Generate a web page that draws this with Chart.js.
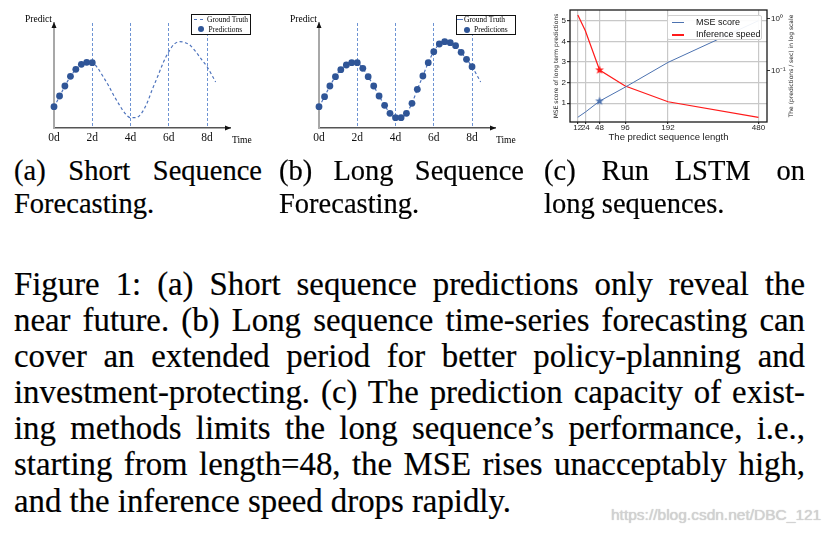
<!DOCTYPE html>
<html>
<head>
<meta charset="utf-8">
<title>Figure 1</title>
<script src="https://cdn.jsdelivr.net/npm/chart.js@4.4.1/dist/chart.umd.min.js"></script>
<style>
  body { margin: 0; background: #fff; }
  #page { position: relative; width: 833px; height: 535px; overflow: hidden; font-family: "Liberation Serif", serif; color: #000; }
  .panel { position: absolute; }
  .lbl { position: absolute; white-space: nowrap; line-height: 1; }
  .legend { position: absolute; background: #fff; box-sizing: border-box; }
  .legend .lbl { font-size: 7.5px; }
  .box-ab { border: 1.5px solid #111; }
  .dash { position: absolute; height: 0; border-top: 1.5px dashed #4f74bd; }
  .dot { position: absolute; width: 6px; height: 6px; border-radius: 50%; background: #2f5597; }
  .box-c { border: 1px solid #d0d0d0; border-radius: 2px; background: rgba(255,255,255,0.92); font-family: "Liberation Sans", sans-serif; }
  .box-c .lbl { font-size: 9px; color: #111; }
  .swatch { position: absolute; height: 1.4px; width: 12px; }
  .cap { position: absolute; top: 154px; font-size: 28.5px; line-height: 33px; -webkit-text-stroke: 0.2px #000; }
  .j { text-align: justify; text-align-last: justify; white-space: nowrap; }
  .para { position: absolute; left: 14px; top: 266px; width: 791px; font-size: 32.8px; line-height: 36.1px; -webkit-text-stroke: 0.2px #000; }
  .mark { position: absolute; left: 611px; top: 506px; font: 15.5px "Liberation Sans", sans-serif; color: #d2d2d2; text-shadow: 0 0 1px #bdbdbd; white-space: nowrap; }
</style>
</head>
<body>
<div id="page">

  <div class="panel" style="left:0;top:0;width:280px;height:150px"><canvas id="chartShort"></canvas></div>
  <div class="panel" style="left:265px;top:0;width:280px;height:150px"><canvas id="chartLong"></canvas></div>
  <div class="panel" style="left:548px;top:0;width:285px;height:145px"><canvas id="chartLstm"></canvas></div>

  <div class="lbl" style="left:25px;top:14.5px;font-size:9.5px">Predict</div>
  <div class="lbl" style="left:232px;top:135.5px;font-size:9.5px">Time</div>
  <div class="lbl" style="left:290px;top:14.5px;font-size:9.5px">Predict</div>
  <div class="lbl" style="left:496px;top:135.5px;font-size:9.5px">Time</div>

  <div class="legend box-ab" style="left:191px;top:14px;width:60px;height:20.5px">
    <span class="dash" style="left:2px;top:4px;width:9px"></span>
    <span class="lbl" style="left:15px;top:1px">Ground Truth</span>
    <span class="dot" style="left:5.5px;top:11px"></span>
    <span class="lbl" style="left:16.5px;top:10.5px">Predictions</span>
  </div>
  <div class="legend box-ab" style="left:455.5px;top:15px;width:60.5px;height:19.5px">
    <span class="dash" style="left:0.5px;top:3px;width:6px"></span>
    <span class="lbl" style="left:7.5px;top:0px">Ground Truth</span>
    <span class="dot" style="left:7px;top:10.5px"></span>
    <span class="lbl" style="left:17.5px;top:10px">Predictions</span>
  </div>

  <div class="legend box-c" style="left:667px;top:15px;width:95px;height:25px">
    <span class="swatch" style="left:4px;top:6px;background:#4c72b0"></span>
    <span class="lbl" style="left:28px;top:2px">MSE score</span>
    <span class="swatch" style="left:4px;top:18.3px;background:#ff1a1a"></span>
    <span class="lbl" style="left:28px;top:14.3px">Inference speed</span>
  </div>

  <div class="cap" style="left:14px;width:248px">
    <div class="j">(a) Short Sequence</div>
    <div>Forecasting.</div>
  </div>
  <div class="cap" style="left:279px;width:245px">
    <div class="j">(b) Long Sequence</div>
    <div>Forecasting.</div>
  </div>
  <div class="cap" style="left:544px;width:261px">
    <div class="j">(c) Run LSTM on</div>
    <div>long sequences.</div>
  </div>

  <div class="para">
    <div class="j">Figure 1: (a) Short sequence predictions only reveal the</div>
    <div class="j">near future. (b) Long sequence time-series forecasting can</div>
    <div class="j">cover an extended period for better policy-planning and</div>
    <div class="j">investment-protecting. (c) The prediction capacity of exist-</div>
    <div class="j">ing methods limits the long sequence’s performance, i.e.,</div>
    <div class="j">starting from length=48, the MSE rises unacceptably high,</div>
    <div>and the inference speed drops rapidly.</div>
  </div>

  <div class="mark">https://blog.csdn.net/DBC_121</div>
</div>

<script>
// (a) and (b): days on x, predicted value on y
const dayTicks = [0, 2, 4, 6, 8];
const truthDays = [0, 0.29, 0.57, 0.86, 1.14, 1.43, 1.71, 2, 2.29, 2.57, 2.86, 3.14, 3.43, 3.71, 4,
                   4.29, 4.57, 4.86, 5.14, 5.43, 5.71, 6, 6.29, 6.57, 6.86, 7.14, 7.43, 7.71, 8, 8.45];
const truthValues = [21, 31.5, 42, 51.5, 58.5, 63.3, 65.5, 65.3, 59.7, 51.3, 42, 32, 22.7, 14.7, 10.3,
                     10.3, 14.7, 24.7, 38.7, 52, 65.3, 76.3, 84, 86.3, 85.3, 82.3, 75.7, 68.7, 61.3, 46];
const shortDays = [0, 0.29, 0.57, 0.86, 1.14, 1.43, 1.71, 2];
const shortPred = [21.3, 32, 42, 51.7, 58.7, 63.7, 65.7, 65.3];
const longDays = [0, 0.29, 0.57, 0.86, 1.14, 1.43, 1.71, 2, 2.29, 2.57, 2.86, 3.14, 3.43, 3.71, 4,
                  4.29, 4.57, 4.86, 5.14, 5.43, 5.71, 6, 6.29, 6.57, 6.86, 7.14, 7.43, 7.71, 8];
const longPred = [21.3, 31.3, 42, 51.3, 58.3, 63, 65.3, 65.3, 59.7, 51.3, 42, 32, 22.7, 14.7, 10.3,
                  10.3, 14.7, 24.7, 38.7, 52, 65.3, 76.3, 84, 86.3, 85.3, 82.3, 75.7, 68.7, 61.3];

// (c): LSTM on long sequences
const seqLengths = [12, 24, 48, 96, 192, 480];
const mseScore = [0.32, 0.57, 1.1, 1.78, 2.98, 5.0];
const inferSpeed = [1.16, 0.58, 0.103, 0.051, 0.0256, 0.0129];
const mseTicks = [1, 2, 3, 4, 5];
const speedTicks = [0.1, 1];
const speedTickLabels = ['10⁻¹', '10⁰'];
const markedLength = 48;

// x axis of (c) is squeezed towards the long end, log(x + shift) fits it
class ShiftedLogScale extends Chart.LinearScale {
    getPixelForValue(value){
        const s = this.options.shift;
        const a = Math.log(this.min + s), b = Math.log(this.max + s);
        return this.getPixelForDecimal((Math.log(value + s) - a) / (b - a));
    }
    getValueForPixel(pixel){
        const s = this.options.shift;
        const a = Math.log(this.min + s), b = Math.log(this.max + s);
        return Math.exp(a + this.getDecimalForPixel(pixel) * (b - a)) - s;
    }
}
ShiftedLogScale.id = 'shiftedLog';
ShiftedLogScale.defaults = Chart.LinearScale.defaults;
Chart.register(ShiftedLogScale);

const axisArrows = {
    id: 'axisArrows',
    afterDraw(chart){
        const {ctx, chartArea} = chart;
        const {left, right, top, bottom} = chartArea;
        ctx.save();
        ctx.fillStyle = '#111';
        ctx.beginPath();
        ctx.moveTo(left, top - 1);
        ctx.lineTo(left - 2.5, top + 5);
        ctx.lineTo(left + 2.5, top + 5);
        ctx.fill();
        ctx.beginPath();
        ctx.moveTo(right + 1, bottom);
        ctx.lineTo(right - 5, bottom - 2.5);
        ctx.lineTo(right - 5, bottom + 2.5);
        ctx.fill();
        ctx.restore();
    }
};

const frameAndRightTitle = {
    id: 'frameAndRightTitle',
    afterDraw(chart, args, opts){
        const {ctx, chartArea: a} = chart;
        ctx.save();
        ctx.strokeStyle = '#1a1a1a';
        ctx.lineWidth = 1.3;
        ctx.strokeRect(a.left, a.top, a.width, a.height);
        ctx.translate(opts.x, (a.top + a.bottom) / 2);
        ctx.rotate(-Math.PI / 2);
        ctx.font = '6px "DejaVu Sans"';
        ctx.fillStyle = '#222';
        ctx.textAlign = 'center';
        ctx.textBaseline = 'middle';
        ctx.fillText(opts.text, 0, 0);
        ctx.restore();
    }
};

function starImage(color, r){
    const c = document.createElement('canvas');
    c.width = c.height = Math.ceil(r * 2) + 2;
    const g = c.getContext('2d');
    g.translate(c.width / 2, c.height / 2);
    g.beginPath();
    for(let i = 0; i < 10; i++){
        const rr = i % 2 ? r * 0.42 : r;
        const ang = -Math.PI / 2 + i * Math.PI / 5;
        g.lineTo(rr * Math.cos(ang), rr * Math.sin(ang));
    }
    g.closePath();
    g.fillStyle = color;
    g.fill();
    return c;
}

function forecastChart(canvas_id, predDays, predValues){
    new Chart(document.getElementById(canvas_id), {
        type: 'line',
        data: {
            datasets: [{
                label: 'Predictions',
                data: predDays.map((d, i) => ({x: d, y: predValues[i]})),
                showLine: false,
                pointRadius: 3.4,
                pointBackgroundColor: '#2f5597',
                pointBorderWidth: 0,
                clip: false
            }, {
                label: 'Ground Truth',
                data: truthDays.map((d, i) => ({x: d, y: truthValues[i]})),
                borderColor: '#4f74bd',
                borderWidth: 1.2,
                borderDash: [3, 2.5],
                pointRadius: 0,
                cubicInterpolationMode: 'monotone',
                clip: false
            }]
        },
        options: {
            responsive: true,
            maintainAspectRatio: false,
            animation: false,
            events: [],
            layout: { padding: { left: 54, right: 50, top: 23, bottom: 0 } },
            plugins: { legend: { display: false }, tooltip: { enabled: false } },
            scales: {
                x: {
                    type: 'linear', min: 0, max: 9.2,
                    afterBuildTicks: s => { s.ticks = dayTicks.map(v => ({value: v})); },
                    afterFit: s => { s.height = 22; },
                    ticks: { padding: 3, maxRotation: 0, autoSkip: false, color: '#111',
                             font: { family: 'Liberation Serif', size: 11.5 }, callback: v => v + 'd' },
                    grid: { drawTicks: false, lineWidth: 1,
                            color: c => (c.tick && c.tick.value === 0) ? 'rgba(0,0,0,0)' : '#6d93d3' },
                    border: { color: '#555', width: 1.5, dash: [3, 2] }
                },
                y: {
                    min: 0, max: 105,
                    afterFit: s => { s.width = 0; },
                    ticks: { display: false },
                    grid: { display: false, drawTicks: false },
                    border: { color: '#a8a8a8', width: 2 }
                }
            }
        },
        plugins: [axisArrows]
    });
}

forecastChart('chartShort', shortDays, shortPred);
forecastChart('chartLong', longDays, longPred);

const redStar = starImage('#ff1a1a', 4.6);
const blueStar = starImage('#4c72b0', 4.6);
const tickFont = { family: 'Liberation Sans', size: 8 };

new Chart(document.getElementById('chartLstm'), {
    type: 'line',
    data: {
        datasets: [{
            label: 'MSE score',
            data: seqLengths.map((x, i) => ({x: x, y: mseScore[i]})),
            yAxisID: 'y',
            borderColor: '#4c72b0',
            borderWidth: 1,
            pointRadius: seqLengths.map(v => v === markedLength ? 5 : 0),
            pointStyle: seqLengths.map(v => v === markedLength ? blueStar : 'circle')
        }, {
            label: 'Inference speed',
            data: seqLengths.map((x, i) => ({x: x, y: inferSpeed[i]})),
            yAxisID: 'y1',
            borderColor: '#ff1a1a',
            borderWidth: 1.2,
            pointRadius: seqLengths.map(v => v === markedLength ? 5 : 0),
            pointStyle: seqLengths.map(v => v === markedLength ? redStar : 'circle')
        }]
    },
    options: {
        responsive: true,
        maintainAspectRatio: false,
        animation: false,
        events: [],
        layout: { padding: { left: 0, right: 0, top: 10, bottom: 0 } },
        plugins: {
            legend: { display: false },
            tooltip: { enabled: false },
            frameAndRightTitle: { text: 'The (predictions / sec) in log scale', x: 243 }
        },
        scales: {
            x: {
                type: 'shiftedLog', shift: 290, min: 0, max: 515,
                afterBuildTicks: s => { s.ticks = seqLengths.map(v => ({value: v})); },
                afterFit: s => { s.height = 23; },
                ticks: { padding: -1, maxRotation: 0, minRotation: 0, autoSkip: false, color: '#222',
                         font: tickFont, callback: v => v },
                grid: { color: '#c8c8c8', lineWidth: 1.2, tickColor: '#333', tickLength: 2 },
                border: { display: false },
                title: { display: true, text: 'The predict sequence length', color: '#222',
                         font: { family: 'Liberation Sans', size: 9.5 }, padding: { top: 0, bottom: 2 } }
            },
            y: {
                position: 'left', min: 0.09, max: 5.52,
                afterBuildTicks: s => { s.ticks = mseTicks.map(v => ({value: v})); },
                afterFit: s => { s.width = 22; },
                ticks: { padding: 1, color: '#222', font: tickFont, callback: v => v },
                grid: { color: '#c8c8c8', lineWidth: 1.2, tickColor: '#333', tickLength: 3 },
                border: { display: false },
                title: { display: true, text: 'MSE score of long term predictions', color: '#222',
                         font: { family: 'DejaVu Sans', size: 6 }, padding: { top: 5, bottom: 0 } }
            },
            y1: {
                type: 'logarithmic', position: 'right', min: 0.0105, max: 1.44,
                afterBuildTicks: s => { s.ticks = speedTicks.map(v => ({value: v})); },
                afterFit: s => { s.width = 66; },
                ticks: { padding: 1, color: '#222', font: tickFont, callback: (v, i) => speedTickLabels[i] },
                grid: { drawOnChartArea: false, color: '#333', tickLength: 3 },
                border: { display: false }
            }
        }
    },
    plugins: [frameAndRightTitle]
});
</script>
</body>
</html>
